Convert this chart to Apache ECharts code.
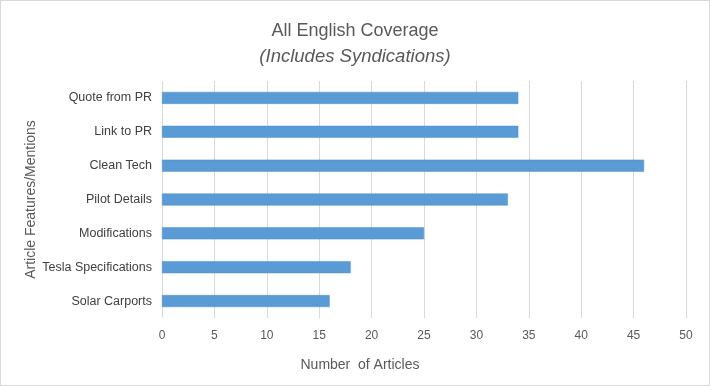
<!DOCTYPE html>
<html><head><meta charset="utf-8">
<script src="https://cdn.jsdelivr.net/npm/echarts@6/dist/echarts.min.js"></script>
<style>html,body{margin:0;padding:0;background:#fff}#c{width:708px;height:384px;border:1px solid #d9d9d9}</style>
</head><body><div id="c"></div>
<script>
const categories = ["Solar Carports","Tesla Specifications","Modifications","Pilot Details","Clean Tech","Link to PR","Quote from PR"];
const values = [16,18,25,33,46,34,34];
const xTicks = {min:0,max:50,interval:5};
const titleText = "All English Coverage";
const subtitleText = "(Includes Syndications)";
const xName = "Number  of Articles";
const yName = "Article Features/Mentions";

const chart = echarts.init(document.getElementById('c'));
const FONT = "Liberation Sans";
chart.setOption({
  animation:false,
  title:{text:titleText,subtext:subtitleText,left:'center',top:16,itemGap:7,
    textStyle:{fontFamily:FONT,fontSize:18,fontWeight:'normal',color:'#595959'},
    subtextStyle:{fontFamily:FONT,fontSize:18.5,fontStyle:'italic',color:'#595959'}},
  grid:{left:161,right:23,top:80,bottom:67},
  xAxis:{type:'value',min:xTicks.min,max:xTicks.max,interval:xTicks.interval,
    axisLine:{show:false},axisTick:{show:false},
    splitLine:{lineStyle:{color:'#d9d9d9',width:1}},
    axisLabel:{fontFamily:FONT,fontSize:12,color:'#595959',margin:12},
    name:xName,nameLocation:'middle',nameGap:40,
    nameTextStyle:{fontFamily:FONT,fontSize:14,color:'#595959',padding:[0,128,0,0]}},
  yAxis:{type:'category',data:categories,
    axisLine:{show:false},axisTick:{show:false},
    axisLabel:{fontFamily:FONT,fontSize:12.5,color:'#404040',margin:10},
    name:yName,nameLocation:'middle',nameGap:124,nameMoveOverlap:false,
    nameTextStyle:{fontFamily:FONT,fontSize:14,color:'#595959'}},
  series:[{type:'bar',data:values,barWidth:12,
    itemStyle:{color:'#5b9bd5',borderColor:'#4f8fca',borderWidth:0.5}}]
});
</script></body></html>
